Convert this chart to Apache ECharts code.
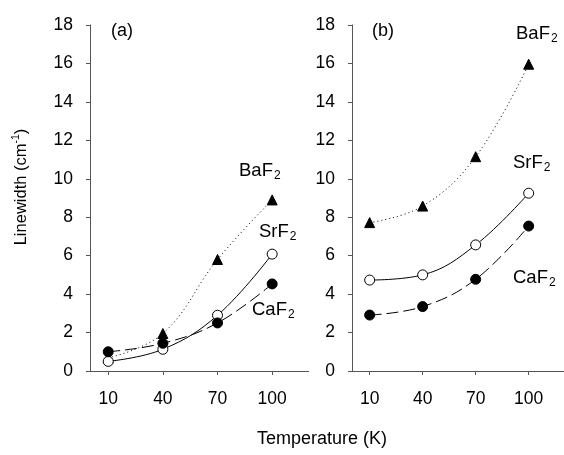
<!DOCTYPE html>
<html>
<head>
<meta charset="utf-8">
<script src="https://cdn.jsdelivr.net/npm/echarts@6/dist/echarts.min.js"></script>
<style>html,body{margin:0;padding:0;background:#fff;}#c{width:564px;height:455px;}</style>
</head>
<body>
<div id="c"></div>
<script>
var temps = [10, 40, 70, 100];
var tickLabels = [10, 40, 70, 100];
var yTicks = [0, 2, 4, 6, 8, 10, 12, 14, 16, 18];
// Panel (a)
var aBaF2 = [0.68, 1.95, 5.8, 8.9];
var aSrF2 = [0.5, 1.13, 2.9, 6.08];
var aCaF2 = [1.0, 1.44, 2.5, 4.53];
// Panel (b)
var bBaF2 = [7.72, 8.58, 11.15, 15.96];
var bSrF2 = [4.73, 5.0, 6.56, 9.25];
var bCaF2 = [2.91, 3.35, 4.77, 7.54];

function pairs(xs, ys) { return xs.map(function (x, i) { return [x, ys[i]]; }); }

var FONT = 'Liberation Sans, Arial, sans-serif';
var AXC = '#555';

function xAx(gi) {
  return {
    type: 'value', gridIndex: gi, min: 0, max: 120,
    axisLine: { show: true, lineStyle: { color: AXC, width: 1 } },
    axisTick: { show: true, length: 4, customValues: tickLabels, lineStyle: { color: AXC } },
    axisLabel: { customValues: tickLabels, color: '#000', fontSize: 17.5, fontFamily: FONT, margin: 19 },
    splitLine: { show: false }
  };
}
function yAx(gi) {
  return {
    type: 'value', gridIndex: gi, min: 0, max: 18, interval: 2,
    axisLine: { show: true, lineStyle: { color: AXC, width: 1 } },
    axisTick: { show: true, length: 4, lineStyle: { color: AXC } },
    axisLabel: { color: '#000', fontSize: 17.5, fontFamily: FONT, margin: 17 },
    splitLine: { show: false }
  };
}

function ser(gi, data, kind) {
  var s = {
    type: 'line', xAxisIndex: gi, yAxisIndex: gi, data: pairs(temps, data),
    smooth: 0.4, symbolSize: 10, z: 3,
    lineStyle: { color: '#000', width: 1 },
    itemStyle: { color: '#000', borderColor: '#000', borderWidth: 1 },
    emphasis: { disabled: true }, animation: false
  };
  if (kind === 'ba') { s.symbol = 'triangle'; s.lineStyle.type = [1, 3]; s.symbolSize = 10; }
  if (kind === 'sr') { s.symbol = 'circle'; s.itemStyle.color = '#fff'; s.z = 4; }
  if (kind === 'ca') { s.symbol = 'circle'; s.lineStyle.type = [12, 5]; s.z = 5; }
  return s;
}

function lab(x, y, main) {
  return {
    type: 'text', left: x, top: y,
    style: {
      text: '{m|' + main + '}{s|2}',
      rich: {
        m: { fontSize: 18.5, fontFamily: FONT, fill: '#000', color: '#000' },
        s: { fontSize: 12, fontFamily: FONT, fill: '#000', color: '#000', padding: [10, 0, 0, 1] }
      }
    }
  };
}

var chart = echarts.init(document.getElementById('c'), null, { renderer: 'canvas' });
chart.setOption({
  animation: false,
  backgroundColor: '#fff',
  grid: [
    { left: 90, top: 25, width: 218.6, height: 346 },
    { left: 352, top: 25, width: 218.6, height: 346 }
  ],
  xAxis: [xAx(0), xAx(1)],
  yAxis: [yAx(0), yAx(1)],
  series: [
    ser(0, aBaF2, 'ba'), ser(0, aSrF2, 'sr'), ser(0, aCaF2, 'ca'),
    ser(1, bBaF2, 'ba'), ser(1, bSrF2, 'sr'), ser(1, bCaF2, 'ca')
  ],
  graphic: [
    { type: 'text', left: 111, top: 22, style: { text: '(a)', fontSize: 18, fontFamily: FONT, fill: '#000' } },
    { type: 'text', left: 372, top: 22, style: { text: '(b)', fontSize: 18, fontFamily: FONT, fill: '#000' } },
    lab(239, 161, 'BaF'),
    lab(259, 222, 'SrF'),
    lab(252, 300, 'CaF'),
    lab(516, 24, 'BaF'),
    lab(513, 153, 'SrF'),
    lab(513, 268, 'CaF'),
    {
      type: 'text', x: 21, y: 187, rotation: Math.PI / 2,
      style: {
        text: '{t|Linewidth (cm}{s|-1}{t|)}', align: 'center', verticalAlign: 'middle',
        rich: {
          t: { fontSize: 16.5, fontFamily: FONT, fill: '#000', color: '#000' },
          s: { fontSize: 10.5, fontFamily: FONT, fill: '#000', color: '#000', padding: [0, 0, 9, 0] }
        }
      }
    },
    { type: 'text', left: 257, top: 430, style: { text: 'Temperature (K)', fontSize: 18, fontFamily: FONT, fill: '#000' } }
  ]
});
</script>
</body>
</html>
